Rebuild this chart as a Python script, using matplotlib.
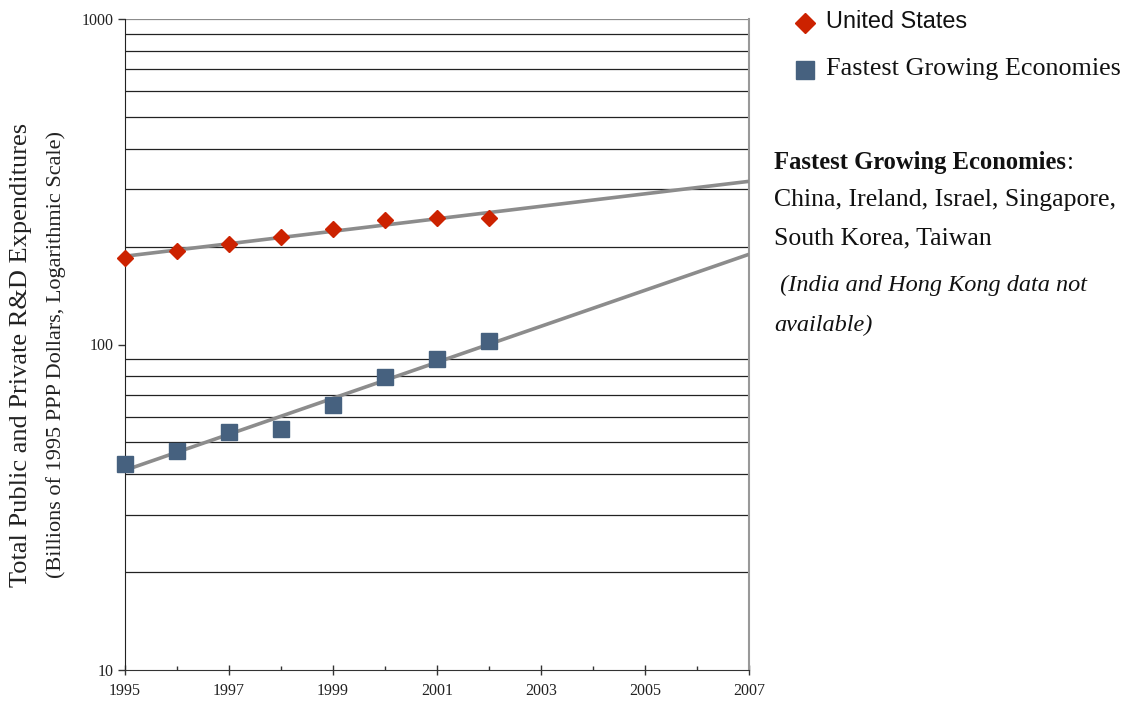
import numpy as np
import matplotlib
matplotlib.use("Agg")
import matplotlib.pyplot as plt
from matplotlib.lines import Line2D
from matplotlib.ticker import FixedLocator, NullFormatter

# R&D expenditures, billions of 1995 PPP dollars
years = [1995, 1996, 1997, 1998, 1999, 2000, 2001, 2002]
us_values = [184.5, 193.8, 203.6, 213.9, 226.3, 241.2, 244.7, 244.7]
fge_values = [42.9, 47.1, 53.8, 55.0, 65.2, 79.5, 90.3, 102.5]

trend_years = [1995, 2007]
year_ticks = [1995, 1997, 1999, 2001, 2003, 2005, 2007]
minor_years = [1996, 1998, 2000, 2002, 2004, 2006]
y_major = [10, 100, 1000]
y_grid = [20, 30, 40, 50, 60, 70, 80, 90, 200, 300, 400, 500, 600, 700, 800, 900, 1000]

series_names = ["United States", "Fastest Growing Economies"]
note_title = "Fastest Growing Economies"
note_lines = ["China, Ireland, Israel, Singapore,", "South Korea, Taiwan"]
note_italic = [" (India and Hong Kong data not", "available)"]

RED = "#CC2200"
BLUE = "#46617F"
TREND = "#8C8C8C"
INK = "#111111"
SERIF = ["Liberation Serif", "DejaVu Serif"]
SANS = ["Liberation Sans", "DejaVu Sans"]

W, H = 1133, 703
fig = plt.figure(figsize=(W / 100, H / 100), dpi=100)
ax = fig.add_axes([125 / W, 1 - 670 / H, (749 - 125) / W, (670 - 19) / H])

ax.set_yscale("log")
ax.set_xlim(1995, 2007)
ax.set_ylim(10, 1000)

# horizontal grid lines
for v in y_grid:
    ax.axhline(v, color="#8C8C8C" if v == 1000 else "#222222", lw=0.9, zorder=1)


def exp_trend(x, y, xs):
    """Least-squares exponential trend, evaluated at xs."""
    slope, intercept = np.polyfit(np.asarray(x, float), np.log10(y), 1)
    return 10 ** (intercept + slope * np.asarray(xs, float))


ax.plot(trend_years, exp_trend(years, us_values, trend_years), color=TREND, lw=2.6,
        zorder=3, solid_capstyle="butt")
ax.plot(trend_years, exp_trend(years, fge_values, trend_years), color=TREND, lw=2.6,
        zorder=3, solid_capstyle="butt")

ax.plot(years, us_values, ls="none", marker="D", ms=8, color=RED, mec=RED, zorder=4,
        clip_on=False)
ax.plot(years, fge_values, ls="none", marker="s", ms=11.5, color=BLUE, mec=BLUE, zorder=4,
        clip_on=False)

# spines
ax.spines["top"].set_visible(False)
ax.spines["left"].set_color("#222222")
ax.spines["bottom"].set_color("#333333")
ax.spines["right"].set_color("#999999")
ax.spines["right"].set_linewidth(1.5)

ax.xaxis.set_major_locator(FixedLocator(year_ticks))
ax.xaxis.set_minor_locator(FixedLocator(minor_years))
ax.set_xticklabels([str(y) for y in year_ticks])
ax.tick_params(axis="x", which="major", direction="inout", length=7, width=1,
               color="#333333", pad=6)
ax.tick_params(axis="x", which="minor", direction="in", length=3, width=1, color="#333333")

ax.yaxis.set_major_locator(FixedLocator(y_major))
ax.yaxis.set_minor_locator(FixedLocator([]))
ax.yaxis.set_minor_formatter(NullFormatter())
ax.set_yticklabels([str(v) for v in y_major])
ax.tick_params(axis="y", which="major", direction="out", length=5, width=1,
               color="#333333", pad=3)

for lab in ax.get_xticklabels() + ax.get_yticklabels():
    lab.set_fontfamily(SERIF)
    lab.set_fontsize(11.5)
    lab.set_color("#222222")

# axis title in two lines
fig.text(21 / W, 1 - 355 / H, "Total Public and Private R&D Expenditures",
         rotation=90, ha="center", va="center", fontsize=19, family=SERIF, color="#222222")
fig.text(56 / W, 1 - 355 / H, "(Billions of 1995 PPP Dollars, Logarithmic Scale)",
         rotation=90, ha="center", va="center", fontsize=16, family=SERIF, color="#222222")

# legend, drawn as marker + label pairs
fig.add_artist(Line2D([805 / W], [1 - 23 / H], ls="none", marker="D", ms=10.5,
                      color=RED, transform=fig.transFigure))
fig.add_artist(Line2D([805 / W], [1 - 70 / H], ls="none", marker="s", ms=13.5,
                      color=BLUE, transform=fig.transFigure))
fig.text(826 / W, 1 - 21 / H, series_names[0], fontsize=16.9, family=SANS,
         va="center", color=INK)
fig.text(826 / W, 1 - 69 / H, series_names[1], fontsize=18.8, family=SERIF,
         va="center", color=INK)

# side note: bold heading followed by a regular-weight colon
x0 = 774 / W
title = fig.text(x0, 1 - 169 / H, note_title, fontsize=17.7, family=SERIF,
                 weight="bold", va="baseline", color=INK)
fig.canvas.draw()
bb = title.get_window_extent()
fig.text((bb.x1 + 1) / W, 1 - 169 / H, ":", fontsize=17.7, family=SERIF,
         va="baseline", color=INK)
for i, line in enumerate(note_lines):
    fig.text(x0, 1 - (200 + 38 * i) / H, line, fontsize=18.5, family=SERIF,
             va="center", color=INK)
for i, line in enumerate(note_italic):
    fig.text(x0, 1 - (285 + 40 * i) / H, line, fontsize=17.5, family=SERIF,
             style="italic", va="center", color=INK)

fig.savefig("out.png", dpi=100, facecolor="white")
